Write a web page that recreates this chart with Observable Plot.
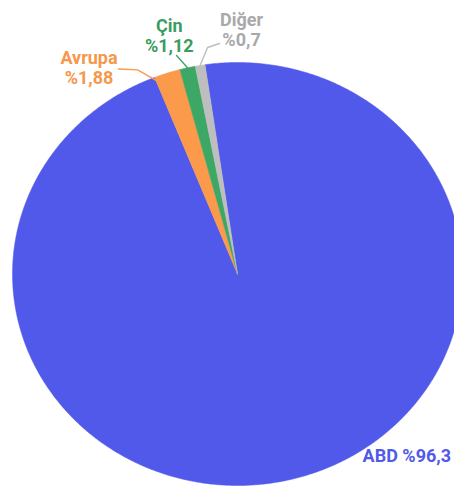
<!DOCTYPE html>
<html>
<head>
<meta charset="utf-8">
<script src="https://cdn.jsdelivr.net/npm/d3@7"></script>
<script src="https://cdn.jsdelivr.net/npm/@observablehq/plot@0.6"></script>
<style>
  html, body { margin: 0; padding: 0; background: #ffffff; }
  #chart svg { display: block; }
</style>
</head>
<body>
<div id="chart"></div>
<script>
// ---- data ----
const categories = ["ABD", "Avrupa", "Çin", "Diğer"];
const shares = [96.3, 1.88, 1.12, 0.7];
const labelTexts = ["ABD %96,3", "Avrupa\n%1,88", "Çin\n%1,12", "Diğer\n%0,7"];

// ---- styles ----
const sliceColors = ["#5159EA", "#FB9A4B", "#3DA766", "#BEBEBE"];
const textColors  = ["#5159EA", "#F7974C", "#3A9D5F", "#A9A9A9"];

// ---- layout (normalized pie units, centre = 0,0, radius = 1) ----
const startDeg = -8.3;
const labelLayout = [
  {x: 0.556, y: -0.890, anchor: "start", leader: null},
  {x: -0.660, y: 0.899, anchor: "middle", leader: [[-0.529, 0.969], [-0.444, 0.965]], at: 0.1, r: 0.97},
  {x: -0.303, y: 1.049, anchor: "middle", leader: [[-0.271, 1.033]], at: 0.5, r: 1.0},
  {x: 0.018, y: 1.080, anchor: "middle", leader: [[-0.080, 1.090], [-0.133, 1.071]], at: 0.5, r: 1.0}
];

const start = startDeg * Math.PI / 180;
const arcs = d3.pie().sort(null).startAngle(start).endAngle(start + 2 * Math.PI)(shares);

const slicePts = arcs.flatMap((a, i) => {
  const name = categories[i];
  const span = a.endAngle - a.startAngle;
  const n = Math.max(2, Math.ceil(span / (Math.PI / 360)));
  const ring = d3.range(n + 1).map(k => a.startAngle + span * k / n);
  return [{name, x: 0, y: 0},
          ...ring.map(t => ({name, x: Math.sin(t), y: Math.cos(t)})),
          {name, x: 0, y: 0}];
});

const leaderPts = arcs.flatMap((a, i) => {
  const L = labelLayout[i];
  if (!L.leader) return [];
  const t = a.startAngle + (a.endAngle - a.startAngle) * L.at;
  const pts = [...L.leader, [L.r * Math.sin(t), L.r * Math.cos(t)]];
  return pts.map(([x, y]) => ({name: categories[i], x, y}));
});

const textMarks = categories.map((c, i) => Plot.text([labelLayout[i]], {
  x: "x", y: "y",
  text: () => labelTexts[i],
  textAnchor: labelLayout[i].anchor,
  lineAnchor: "bottom",
  lineHeight: 1.1,
  fill: textColors[i],
  fontSize: 18,
  fontWeight: 700,
  fontFamily: "Roboto"
}));

const chart = Plot.plot({
  width: 454,
  height: 486,
  margin: 0,
  x: {domain: [-1, 1], range: [12, 462], axis: null},
  y: {domain: [-1, 1], range: [485, 62], axis: null},
  color: {domain: categories, range: sliceColors},
  style: {fontFamily: "Roboto", background: "#ffffff"},
  marks: [
    Plot.line(slicePts, {x: "x", y: "y", z: "name", fill: "name", stroke: "name", strokeWidth: 0.5, curve: "linear"}),
    Plot.line(leaderPts, {x: "x", y: "y", z: "name", stroke: "name", strokeWidth: 1.4}),
    ...textMarks
  ]
});
document.getElementById("chart").appendChild(chart);
</script>
</body>
</html>
